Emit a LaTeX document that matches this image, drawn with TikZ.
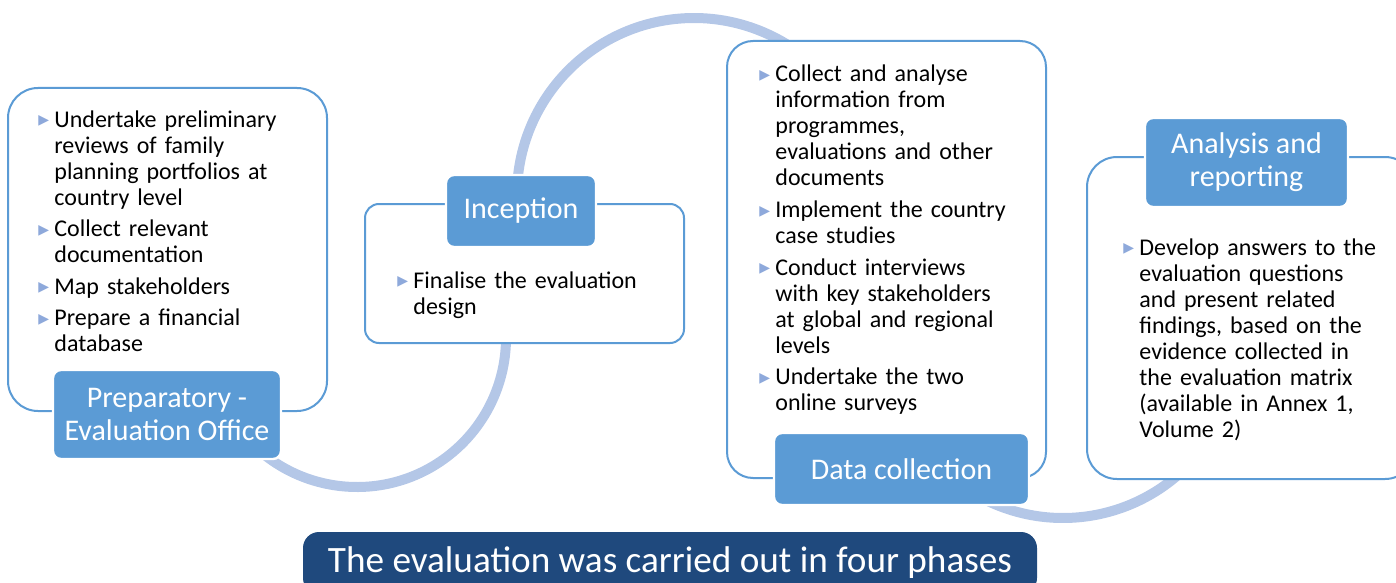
\documentclass[tikz,border=0pt]{standalone}
\usepackage{fontspec}
\setmainfont{Carlito}
\newfontfamily\symbfont{DejaVu Sans}
\usetikzlibrary{fit}
\definecolor{boxline}{HTML}{5B9BD5}
\definecolor{labelfill}{HTML}{5B9BD5}
\definecolor{arcblue}{HTML}{B4C7E7}
\definecolor{bannerblue}{HTML}{1F497D}
\definecolor{bulletblue}{HTML}{8EA9DB}
\newcommand{\phasebullet}{\hangindent=8pt\hangafter=1\noindent\makebox[8pt][l]{\raisebox{1.2pt}{\symbfont\fontsize{7}{7}\selectfont\color{bulletblue}▶}}}
\newcommand{\phaseitem}{\par\setlength{\parskip}{2.8pt}\phasebullet}
\begin{document}
\begin{tikzpicture}[x=0.5pt,y=-0.5pt,
  phasebox/.style={draw=boxline,line width=1pt,fill=white,rounded corners=15pt,inner sep=0pt},
  phaselabel/.style={fill=labelfill,draw=white,line width=1.2pt,rounded corners=4pt,inner sep=0pt},
  labeltext/.style={text=white,align=center,inner sep=0pt,font=\fontsize{15}{16.5}\selectfont},
  phasetext/.style={anchor=base west,inner sep=0pt,align=left,font=\fontsize{12}{13}\selectfont},
  arcline/.style={draw=arcblue,line width=5pt}]
\useasboundingbox (0,0) rectangle (1396,583);
% arcs behind the boxes
\coordinate (arcA) at (357,338);
\coordinate (arcB) at (694,195);
\coordinate (arcC) at (1063,343);
\draw[arcline] ([shift={(140:149)}]arcA) arc[start angle=140,end angle=-10,radius=149];
\draw[arcline] ([shift={(178:177)}]arcB) arc[start angle=178,end angle=310,radius=177];
\draw[arcline] ([shift={(120:175)}]arcC) arc[start angle=120,end angle=45,radius=175];

% phase boxes
\node[phasebox,fit={(8,88) (327,411)}] (prepbox) {};
\node[phasebox,rounded corners=7pt,fit={(365,204) (684,343)}] (incbox) {};
\node[phasebox,rounded corners=13pt,fit={(727,41) (1046,478)}] (databox) {};
\node[phasebox,fit={(1087,157) (1415,479)}] (anabox) {};

% phase labels
\node[phaselabel,fit={(53,370) (281,459)}] (preplabel) {};
\node[phaselabel,fit={(446,175) (596,247)}] (inclabel) {};
\node[phaselabel,fit={(774,433) (1029,505)}] (datalabel) {};
\node[phaselabel,fit={(1145,118) (1348,207)}] (analabel) {};
\node[labeltext] at (preplabel) {Preparatory -\\Evaluation Office};
\node[labeltext] at (inclabel) {Inception};
\node[labeltext] at (datalabel) {Data collection};
\node[labeltext] at (analabel) {Analysis and\\reporting};

% bullet texts
\node[phasetext,text width=150pt] (preptext) at (38,127) {%
\phasebullet Undertake preliminary\newline reviews of family\newline planning portfolios at\newline country level
\phaseitem Collect relevant\newline documentation
\phaseitem Map stakeholders
\phaseitem Prepare a financial\newline database\par};
\node[phasetext,text width=150pt] (inctext) at (397,288) {%
\phasebullet Finalise the evaluation\newline design\par};
\node[phasetext,text width=150pt] (datatext) at (759,82) {%
\phasebullet Collect and analyse\newline information from\newline programmes,\newline evaluations and other\newline documents
\phaseitem Implement the country\newline case studies
\phaseitem Conduct interviews\newline with key stakeholders\newline at global and regional\newline levels
\phaseitem Undertake the two\newline online surveys\par};
\node[phasetext,text width=150pt] (anatext) at (1123,255) {%
\phasebullet Develop answers to the\newline evaluation questions\newline and present related\newline findings, based on the\newline evidence collected in\newline the evaluation matrix\newline (available in Annex 1,\newline Volume 2)\par};

% banner
\node[fill=bannerblue,rounded corners=8pt,inner sep=0pt,fit={(303,532) (1037,594)}] (banner) {};
\node[text=white,inner sep=0pt,font=\fontsize{18.6}{20}\selectfont] (bannertext) at (670,563) {The evaluation was carried out in four phases};
\end{tikzpicture}
\end{document}
